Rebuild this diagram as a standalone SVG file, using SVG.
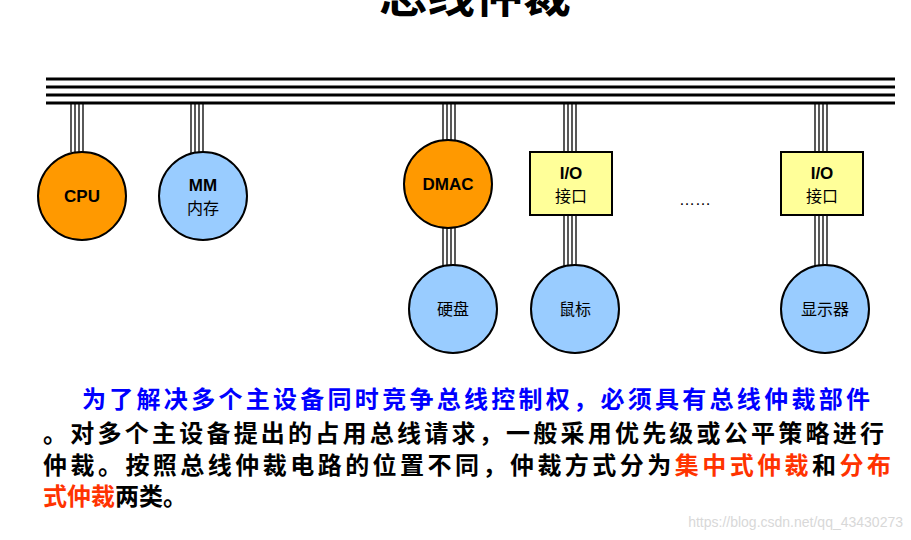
<svg xmlns="http://www.w3.org/2000/svg" width="911" height="540" viewBox="0 0 911 540">
<style>
.bus{stroke:#000;stroke-width:3}
.stub{stroke:#000;stroke-width:1.3}
.node{stroke:#000;stroke-width:2}
.or{fill:#ff9900}.bl{fill:#99ccff}.ye{fill:#ffff99}
.lbl{font-family:"Liberation Sans","Noto Sans CJK SC",sans-serif;font-size:17px;text-anchor:middle;font-weight:bold}
.cn{font-family:"Noto Sans CJK SC",sans-serif;font-size:16px;text-anchor:middle}
.t{font-family:"Noto Sans CJK SC",serif;font-size:24px;font-weight:bold}
</style>
<text x="475" y="12" font-family="Noto Sans CJK SC,sans-serif" font-size="48" font-weight="bold" text-anchor="middle">总线仲裁</text>
<g id="connectors">
<path class="bus" d="M46 79H895M46 87H895M46 95H895M46 103H895"/>
<g class="stub">
<path d="M71 104V152M75 104V152M79 104V152M83 104V152"/>
<path d="M191 104V153M195 104V153M199 104V153M203 104V153"/>
<path d="M443 104V141M447 104V141M451 104V141M455 104V141"/>
<path d="M443 227V266M447 227V266M451 227V266M455 227V266"/>
<path d="M564 104V152M568 104V152M572 104V152M576 104V152"/>
<path d="M564 216V266M568 216V266M572 216V266M576 216V266"/>
<path d="M815 104V152M819 104V152M823 104V152M827 104V152"/>
<path d="M815 216V266M819 216V266M823 216V266M827 216V266"/>
</g>
</g>
<g id="cpu"><ellipse class="node or" cx="82" cy="196" rx="44" ry="44"/><text class="lbl" x="82" y="202">CPU</text></g>
<g id="mm"><ellipse class="node bl" cx="203" cy="196" rx="44" ry="44"/><text class="lbl" x="203" y="191">MM</text><text class="cn" x="203" y="214">内存</text></g>
<g id="dmac"><ellipse class="node or" cx="448" cy="184" rx="44" ry="44"/><text class="lbl" x="448" y="190">DMAC</text></g>
<g id="io1"><rect class="node ye" x="530" y="152" width="82" height="63"/><text class="lbl" x="571" y="179" font-family="Liberation Mono">I/O</text><text class="cn" x="571" y="202">接口</text></g>
<g id="io2"><rect class="node ye" x="781" y="152" width="82" height="63"/><text class="lbl" x="822" y="179" font-family="Liberation Mono">I/O</text><text class="cn" x="822" y="202">接口</text></g>
<text x="695" y="205" font-family="Liberation Sans,sans-serif" font-size="16" text-anchor="middle">……</text>
<g id="disk"><ellipse class="node bl" cx="453" cy="309" rx="44" ry="44"/><text class="cn" x="453" y="315">硬盘</text></g>
<g id="mouse"><ellipse class="node bl" cx="575" cy="309" rx="44" ry="44"/><text class="cn" x="575" y="315">鼠标</text></g>
<g id="display"><ellipse class="node bl" cx="825" cy="309" rx="44" ry="44"/><text class="cn" x="825" y="315">显示器</text></g>
<text class="t" x="82" y="408" fill="#0000ff" textLength="788">为了解决多个主设备同时竞争总线控制权，必须具有总线仲裁部件</text>
<text class="t" x="43" y="442" textLength="841">。对多个主设备提出的占用总线请求，一般采用优先级或公平策略进行</text>
<text class="t" x="43" y="474" textLength="848">仲裁。按照总线仲裁电路的位置不同，仲裁方式分为<tspan fill="#ff3300">集中式仲裁</tspan>和<tspan fill="#ff3300">分布</tspan></text>
<text class="t" x="43" y="505"><tspan fill="#ff3300">式仲裁</tspan>两类。</text>
<text x="903" y="527" font-family="Liberation Sans,sans-serif" font-size="14" fill="#d8d8d8" text-anchor="end">https://blog.csdn.net/qq_43430273</text>
</svg>
